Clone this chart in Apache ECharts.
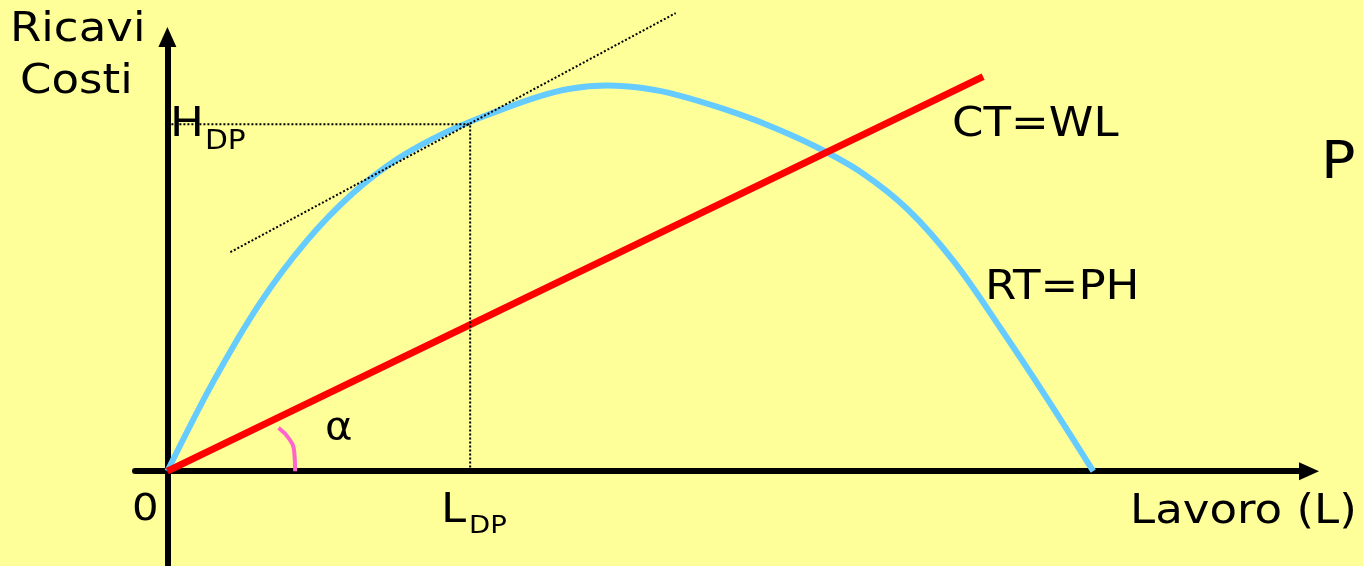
<!DOCTYPE html>
<html>
<head>
<meta charset="utf-8">
<script src="https://cdn.jsdelivr.net/npm/echarts@6/dist/echarts.min.js"></script>
<style>
  html, body { margin: 0; padding: 0; background: #ffff99; }
  #main { width: 1363px; height: 566px; }
</style>
</head>
<body>
<div id="main"></div>
<script>
// ricavi totali RT = PH (curva azzurra)
var revL = [0, 5, 10, 15, 20, 25, 30, 35, 40, 43.5, 47.5, 51.5, 55, 60, 65, 70, 75, 80, 85, 90, 95, 100];
var revH = [0, 23.4, 43.6, 59.6, 72.0, 81.2, 87.8, 92.8, 97.1, 99.2, 100, 99.3, 97.6, 94.0, 89.6, 84.2, 77.4, 67.8, 54.2, 37.0, 18.9, 0];
// costi totali CT = WL (retta rossa)
var costL = [0, 88.1];
var costH = [0, 102.3];
// tangente nel punto DP
var tangentL = [6.8, 54.9];
var tangentH = [56.8, 118.8];
// linee guida L_DP / H_DP
var guideL = [0, 32.7, 32.7];
var guideH = [90.0, 90.0, 0];
// arco dell'angolo alfa
var arcL = [12.0, 13.2, 13.7, 13.8];
var arcH = [11.2, 8.2, 4.9, 0];

function zip(a, b) {
    return a.map(function(v, i) { return [v, b[i]]; });
}

var font = 'DejaVu Sans, Verdana, sans-serif';

function txt(s, x, y, size) {
    return {
        type: 'text',
        x: x,
        y: y,
        scaleX: 1.1,
        style: {
            text: s,
            fill: '#000',
            font: size + 'px ' + font,
            align: 'left',
            verticalAlign: 'middle'
        }
    };
}

var option = {
    animation: false,
    backgroundColor: '#ffff99',
    grid: {
        left: 135,
        right: 54,
        top: 37,
        bottom: 0
    },
    xAxis: {
        type: 'value',
        min: -3.5,
        max: 123.3,
        axisLine: {
            show: true,
            onZero: true,
            symbol: ['none', 'triangle'],
            symbolSize: [18, 20],
            lineStyle: { color: '#000', width: 6 }
        },
        axisTick: { show: false },
        axisLabel: { show: false },
        splitLine: { show: false }
    },
    yAxis: {
        type: 'value',
        min: -24.6,
        max: 112.6,
        axisLine: {
            show: true,
            onZero: true,
            symbol: ['none', 'triangle'],
            symbolSize: [18, 20],
            lineStyle: { color: '#000', width: 6 }
        },
        axisTick: { show: false },
        axisLabel: { show: false },
        splitLine: { show: false }
    },
    series: [{
        name: 'RT=PH',
        type: 'line',
        data: zip(revL, revH),
        smooth: 0.35,
        showSymbol: false,
        lineStyle: { color: '#66ccff', width: 6 },
        z: 3
    }, {
        name: 'CT=WL',
        type: 'line',
        data: zip(costL, costH),
        showSymbol: false,
        lineStyle: { color: '#ff0000', width: 7 },
        z: 4
    }, {
        name: 'tangente',
        type: 'line',
        data: zip(tangentL, tangentH),
        clip: false,
        showSymbol: false,
        lineStyle: { color: '#000', width: 2, type: [2, 2] },
        z: 5
    }, {
        name: 'guide',
        type: 'line',
        data: zip(guideL, guideH),
        showSymbol: false,
        lineStyle: { color: '#000', width: 2, type: [2, 2] },
        z: 5
    }, {
        name: 'alfa',
        type: 'line',
        data: zip(arcL, arcH),
        smooth: 0.5,
        showSymbol: false,
        lineStyle: { color: '#ff66cc', width: 4 },
        z: 5
    }],
    graphic: [
        txt('Ricavi', 10, 30, 41),
        txt('Costi', 20, 82, 41),
        txt('H', 170, 125, 41),
        txt('DP', 205, 142, 27),
        txt('0', 132, 510, 38),
        txt('L', 441, 511, 41),
        txt('DP', 469, 526, 25),
        txt('α', 325, 429, 38),
        txt('CT=WL', 952, 125, 41),
        txt('RT=PH', 985, 288, 41),
        txt('P', 1321, 164, 52),
        txt('Lavoro (L)', 1130, 512, 41)
    ]
};

var myChart = echarts.init(document.getElementById('main'));
myChart.setOption(option);
</script>
</body>
</html>
